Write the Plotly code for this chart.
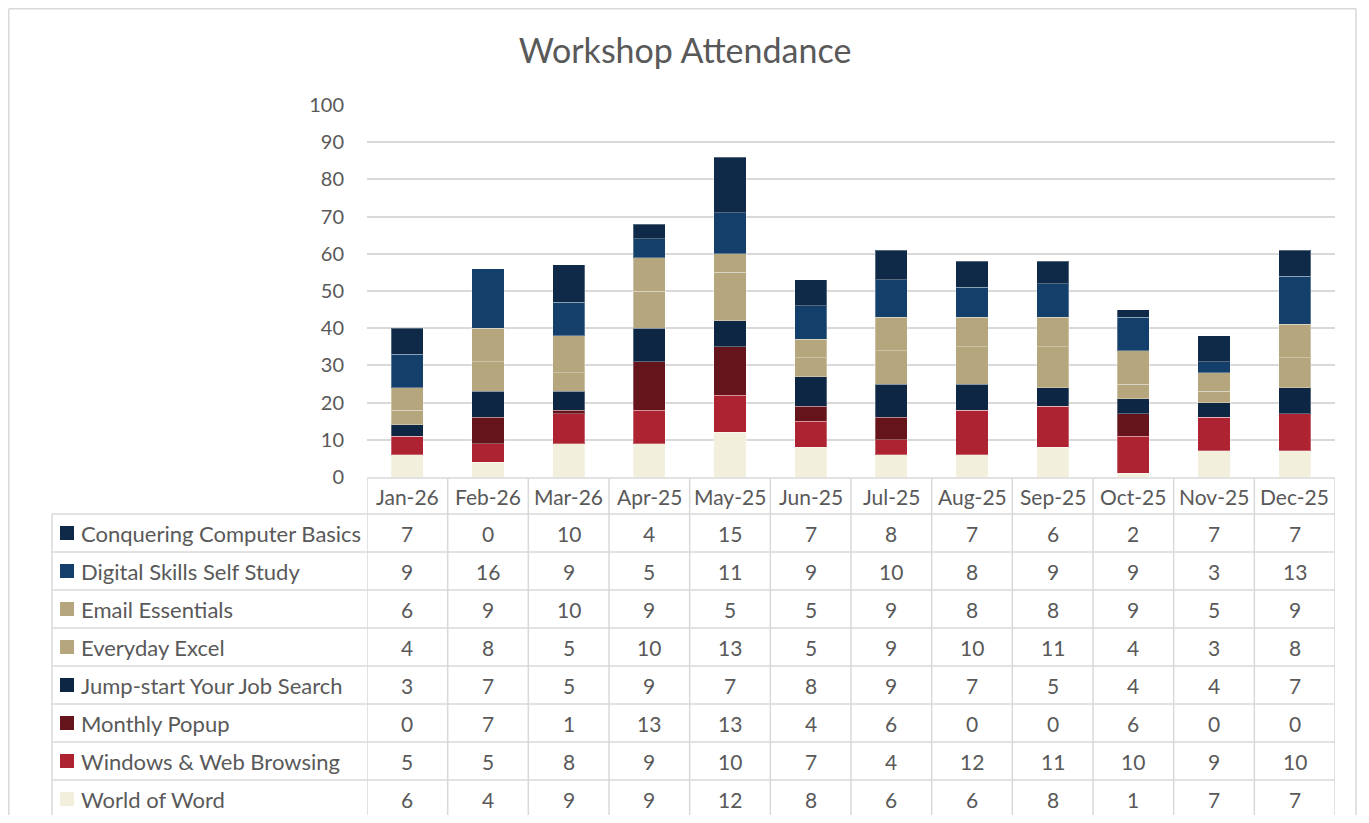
import plotly.graph_objects as go

# ---------------------------------------------------------------
# Data
# ---------------------------------------------------------------

months = ["Jan-26", "Feb-26", "Mar-26", "Apr-25", "May-25", "Jun-25",
          "Jul-25", "Aug-25", "Sep-25", "Oct-25", "Nov-25", "Dec-25"]

# listed bottom of the stack first
world_of_word = [6, 4, 9, 9, 12, 8, 6, 6, 8, 1, 7, 7]
windows_web = [5, 5, 8, 9, 10, 7, 4, 12, 11, 10, 9, 10]
monthly_popup = [0, 7, 1, 13, 13, 4, 6, 0, 0, 6, 0, 0]
jump_start = [3, 7, 5, 9, 7, 8, 9, 7, 5, 4, 4, 7]
everyday_excel = [4, 8, 5, 10, 13, 5, 9, 10, 11, 4, 3, 8]
email_essentials = [6, 9, 10, 9, 5, 5, 9, 8, 8, 9, 5, 9]
digital_skills = [9, 16, 9, 5, 11, 9, 10, 8, 9, 9, 3, 13]
conquering = [7, 0, 10, 4, 15, 7, 8, 7, 6, 2, 7, 7]

series = [
    ("World of Word", world_of_word, "#f2f0dc"),
    ("Windows & Web Browsing", windows_web, "#ae2331"),
    ("Monthly Popup", monthly_popup, "#66141c"),
    ("Jump-start Your Job Search", jump_start, "#0c2643"),
    ("Everyday Excel", everyday_excel, "#b5a67e"),
    ("Email Essentials", email_essentials, "#b5a67e"),
    ("Digital Skills Self Study", digital_skills, "#143f6b"),
    ("Conquering Computer Basics", conquering, "#0e2a48"),
]

y_ticks = list(range(0, 101, 10))

# ---------------------------------------------------------------
# Layout helpers: window pixel -> paper
# the page keeps its default 8px body margin, so the figure is
# 16px smaller than the window and offset by 8px
# ---------------------------------------------------------------

OFF = 8
W, H = 1369 - 2 * OFF, 823 - 2 * OFF
FONT = "Lato, 'Open Sans', sans-serif"
TEXT = "#595959"
GRID = "#d9d9d9"


def px(x):
    return (x - OFF) / W


def py(y):
    return 1 - (y - OFF) / H


plot_left, plot_right = 367, 1335
y_zero, y_top = 477, 105
table_top, table_head, table_bottom = 478, 514, 818
legend_left = 52
row_h = (table_bottom - table_head) / len(series)

fig = go.Figure()

for name, values, color in series:
    fig.add_trace(go.Bar(
        x=months,
        y=values,
        name=name,
        marker=dict(color=color, line=dict(color="rgba(255,255,255,0.3)", width=1)),
        width=0.4,
        showlegend=False,
    ))

shapes = []
annotations = []


def hline(y, x0, x1):
    shapes.append(dict(type="line", xref="paper", yref="paper",
                       x0=px(x0), x1=px(x1), y0=py(y), y1=py(y),
                       line=dict(color=GRID, width=1.5)))


def vline(x, y0, y1):
    shapes.append(dict(type="line", xref="paper", yref="paper",
                       x0=px(x), x1=px(x), y0=py(y0), y1=py(y1),
                       line=dict(color=GRID, width=1.5)))


# outer chart frame
hline(8.8, 8.8, 1356)
vline(8.8, 8.8, 823)
vline(1356, 8.8, 823)

# table grid
hline(table_top, plot_left, plot_right)
for r in range(len(series) + 1):
    hline(table_head + r * row_h, legend_left, plot_right)
vline(legend_left, table_head, table_bottom)
for i in range(len(months) + 1):
    shapes.append(dict(type="line", xref="x", yref="paper",
                       x0=i - 0.5, x1=i - 0.5, y0=py(table_top), y1=py(table_bottom),
                       line=dict(color=GRID, width=1.5)))

# header row with month labels
for m in months:
    annotations.append(dict(x=m, y=py((table_top + table_head) / 2), xref="x", yref="paper",
                            xanchor="center", yanchor="middle",
                            text=m, showarrow=False, font=dict(size=21, color=TEXT, family=FONT)))

# data rows: top row is the last series in the stack
for r, (name, values, color) in enumerate(reversed(series)):
    yc = py(table_head + (r + 0.5) * row_h)
    shapes.append(dict(type="rect", xref="paper", yref="paper",
                       x0=px(60), x1=px(74), y0=yc - 7 / H, y1=yc + 7 / H,
                       fillcolor=color, line=dict(width=0)))
    annotations.append(dict(x=px(79), y=yc, xref="paper", yref="paper",
                            xanchor="left", yanchor="middle",
                            text=name, showarrow=False,
                            font=dict(size=22, color=TEXT, family=FONT)))
    for m, v in zip(months, values):
        annotations.append(dict(x=m, y=yc, xref="x", yref="paper",
                                xanchor="center", yanchor="middle",
                                text=str(v), showarrow=False,
                                font=dict(size=21, color=TEXT, family=FONT)))

fig.update_layout(
    width=W,
    height=H,
    barmode="stack",
    paper_bgcolor="white",
    plot_bgcolor="white",
    margin=dict(l=0, r=0, t=0, b=0, autoexpand=False),
    title=dict(text="Workshop Attendance", x=px(685), xanchor="center",
               y=py(51), yanchor="middle",
               font=dict(size=34, color=TEXT, family=FONT)),
    xaxis=dict(
        domain=[px(plot_left), px(plot_right)],
        range=[-0.5, len(months) - 0.5],
        showticklabels=False,
        showgrid=False,
        zeroline=False,
        showline=False,
        ticks="",
        automargin=False,
    ),
    yaxis=dict(
        domain=[py(y_zero), py(y_top)],
        range=[0, 100],
        tickvals=y_ticks,
        showgrid=True,
        gridcolor=GRID,
        gridwidth=1.5,
        zeroline=False,
        ticks="",
        ticklabelstandoff=22,
        tickfont=dict(size=20, color=TEXT, family=FONT),
        automargin=False,
    ),
    shapes=shapes,
    annotations=annotations,
    bargap=0.6,
)

fig.write_html("out.html", config={"displayModeBar": False})
